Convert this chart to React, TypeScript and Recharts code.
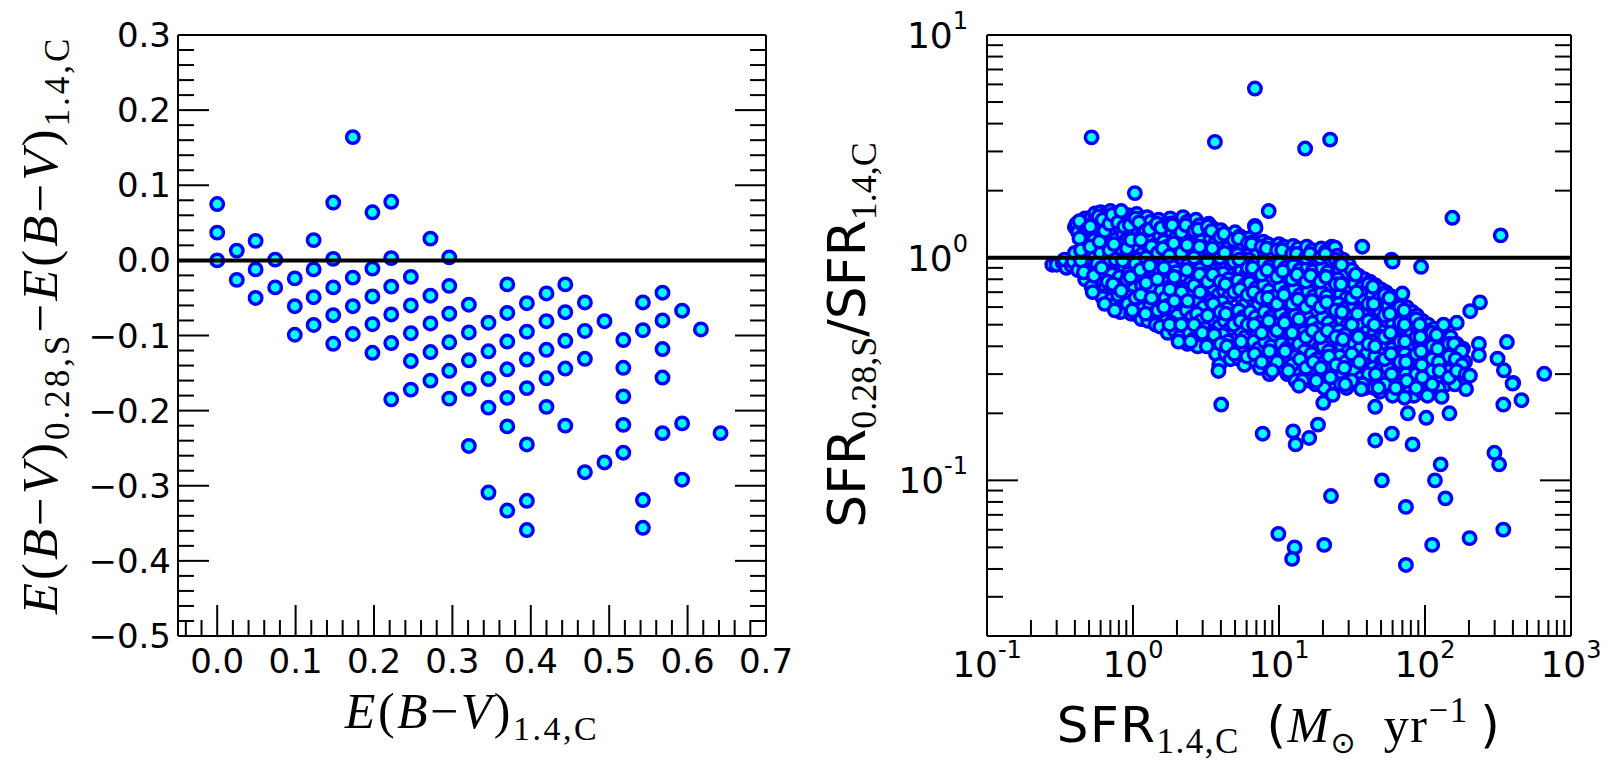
import React from 'react';
import { ScatterChart, Scatter, XAxis, YAxis, ReferenceLine } from 'recharts';

const FILL = '#00ffff';
const EDGE = '#0000ff';
const SANS = '"DejaVu Sans", sans-serif';
const SERIF = '"Liberation Serif", "DejaVu Serif", serif';

// E(B-V) from the 1.4 GHz continuum comes in fixed steps: one column per step
const ebvColumns = [
  0.0, 0.025, 0.049, 0.074, 0.099, 0.123, 0.148, 0.173, 0.198, 0.222, 0.247, 0.272, 0.296, 0.321,
  0.346, 0.37, 0.395, 0.42, 0.444, 0.469, 0.494, 0.518, 0.543, 0.568, 0.593, 0.617, 0.642,
];

// E(B-V)_0.28,S - E(B-V)_1.4,C for the galaxies in each column above
const ebvDeltas = [
  [0.075, 0.037, 0.0],
  [0.013, -0.026],
  [0.026, -0.012, -0.05],
  [0.001, -0.036],
  [-0.024, -0.061, -0.099],
  [0.027, -0.012, -0.049, -0.086],
  [0.077, 0.002, -0.036, -0.073, -0.111],
  [0.164, -0.023, -0.061, -0.098],
  [0.064, -0.011, -0.048, -0.085, -0.123],
  [0.078, 0.003, -0.035, -0.072, -0.11, -0.185],
  [-0.022, -0.06, -0.097, -0.134, -0.172],
  [0.029, -0.047, -0.084, -0.122, -0.16],
  [0.004, -0.034, -0.071, -0.109, -0.147, -0.184],
  [-0.059, -0.096, -0.133, -0.171, -0.247],
  [-0.083, -0.121, -0.158, -0.196, -0.309],
  [-0.032, -0.07, -0.108, -0.145, -0.183, -0.221, -0.333],
  [-0.057, -0.095, -0.132, -0.17, -0.245, -0.32, -0.359],
  [-0.044, -0.081, -0.119, -0.157, -0.195],
  [-0.032, -0.069, -0.107, -0.144, -0.22],
  [-0.056, -0.094, -0.131, -0.282],
  [-0.081, -0.269],
  [-0.106, -0.143, -0.181, -0.219, -0.256],
  [-0.056, -0.093, -0.319, -0.356],
  [-0.043, -0.08, -0.118, -0.156, -0.23],
  [-0.067, -0.217, -0.292],
  [-0.092],
  [-0.23],
];

const ebvTicks = [0, 0.1, 0.2, 0.3, 0.4, 0.5, 0.6, 0.7];
const deltaTicks = [-0.5, -0.4, -0.3, -0.2, -0.1, 0, 0.1, 0.2, 0.3];
const sfrDecades = [-1, 0, 1, 2, 3];
const ratioDecades = [-1, 0, 1];

// [SFR_1.4,C, SFR_0.28,S / SFR_1.4,C] for the bulk of the sample
const sfrCloud: [number, number][] = [
  [0.28, 0.93], [0.3, 0.93], [0.33, 0.95], [0.35, 0.9], [0.34, 0.98],
  [0.38, 0.92], [0.4, 1.37], [0.41, 1.42], [0.39, 0.96], [0.42, 0.88], [0.4, 1.05], [0.42, 1.3],
  [0.45, 1.45], [0.47, 1.5], [0.46, 1.38], [0.48, 0.93], [0.46, 1.12], [0.5, 0.85], [0.49, 1.02], [0.47, 0.8], [0.5, 1.25], [0.48, 1.18],
  [0.52, 1.52], [0.55, 1.58], [0.53, 1.42], [0.56, 1.3], [0.54, 1.2], [0.57, 1.08], [0.53, 0.97], [0.55, 0.9], [0.58, 0.78], [0.56, 0.72], [0.52, 0.74], [0.57, 1.46], [0.55, 1.02],
  [0.6, 1.6], [0.63, 1.55], [0.65, 1.48], [0.61, 1.38], [0.66, 1.33], [0.62, 1.25], [0.67, 1.18], [0.64, 1.12], [0.6, 1.05], [0.68, 0.98], [0.63, 0.93], [0.66, 0.86], [0.61, 0.8], [0.65, 0.74], [0.68, 0.69], [0.62, 0.66],
  [0.7, 1.62], [0.74, 1.52], [0.72, 1.44], [0.77, 1.36], [0.71, 1.28], [0.75, 1.2], [0.78, 1.1], [0.73, 1.03], [0.7, 0.96], [0.76, 0.9], [0.72, 0.84], [0.78, 0.78], [0.74, 0.71], [0.71, 0.65], [0.77, 0.62],
  [0.8, 1.58], [0.84, 1.5], [0.88, 1.42], [0.82, 1.35], [0.86, 1.27], [0.9, 1.2], [0.81, 1.14], [0.85, 1.07], [0.89, 1.0], [0.83, 0.94], [0.87, 0.88], [0.81, 0.82], [0.86, 0.76], [0.9, 0.7], [0.84, 0.64], [0.88, 0.6], [0.82, 0.57],
  [0.93, 1.55], [0.97, 1.47], [1.0, 1.38], [0.95, 1.31], [1.02, 1.24], [0.94, 1.16], [0.99, 1.09], [1.02, 1.02], [0.96, 0.96], [1.0, 0.9], [0.93, 0.85], [0.98, 0.79], [1.02, 0.73], [0.95, 0.67], [1.0, 0.61], [0.97, 0.56],
  [1.06, 1.57], [1.12, 1.49], [1.18, 1.4], [1.08, 1.33], [1.15, 1.26], [1.2, 1.18], [1.1, 1.11], [1.16, 1.04], [1.07, 0.98], [1.13, 0.92], [1.19, 0.86], [1.09, 0.81], [1.15, 0.75], [1.2, 0.69], [1.11, 0.64], [1.17, 0.59], [1.08, 0.55], [1.14, 0.53],
  [1.25, 1.52], [1.32, 1.45], [1.4, 1.37], [1.28, 1.29], [1.36, 1.22], [1.44, 1.15], [1.3, 1.08], [1.38, 1.01], [1.26, 0.95], [1.34, 0.89], [1.42, 0.83], [1.29, 0.78], [1.37, 0.72], [1.45, 0.66], [1.31, 0.61], [1.39, 0.56], [1.27, 0.52], [1.43, 0.5],
  [1.5, 1.48], [1.58, 1.4], [1.66, 1.33], [1.53, 1.25], [1.62, 1.18], [1.72, 1.12], [1.55, 1.05], [1.64, 0.99], [1.74, 0.93], [1.52, 0.88], [1.6, 0.82], [1.7, 0.77], [1.56, 0.71], [1.67, 0.66], [1.75, 0.61], [1.59, 0.56], [1.69, 0.52], [1.54, 0.49], [1.73, 0.46],
  [1.8, 1.5], [1.9, 1.43], [2.0, 1.36], [1.85, 1.29], [1.95, 1.22], [2.08, 1.15], [1.82, 1.09], [1.93, 1.03], [2.04, 0.97], [1.87, 0.91], [1.98, 0.86], [2.1, 0.8], [1.84, 0.75], [1.96, 0.7], [2.06, 0.65], [1.89, 0.6], [2.01, 0.55], [1.83, 0.51], [1.94, 0.47], [2.09, 0.44],
  [2.2, 1.52], [2.35, 1.45], [2.5, 1.38], [2.25, 1.31], [2.42, 1.24], [2.58, 1.17], [2.28, 1.1], [2.45, 1.04], [2.22, 0.98], [2.38, 0.93], [2.55, 0.87], [2.3, 0.82], [2.48, 0.77], [2.24, 0.72], [2.4, 0.67], [2.57, 0.62], [2.33, 0.58], [2.52, 0.54], [2.27, 0.5], [2.44, 0.46], [2.6, 0.43], [2.36, 0.41],
  [2.7, 1.48], [2.85, 1.4], [3.05, 1.33], [2.75, 1.26], [2.95, 1.19], [3.15, 1.12], [2.8, 1.06], [3.0, 1.0], [2.72, 0.95], [2.9, 0.89], [3.1, 0.84], [2.78, 0.79], [2.98, 0.74], [3.2, 0.69], [2.82, 0.64], [3.03, 0.6], [2.74, 0.56], [2.93, 0.52], [3.13, 0.48], [2.87, 0.45], [3.08, 0.42], [2.77, 0.4],
  [3.3, 1.42], [3.5, 1.36], [3.75, 1.3], [3.4, 1.23], [3.65, 1.16], [3.9, 1.1], [3.35, 1.04], [3.58, 0.98], [3.82, 0.93], [3.45, 0.88], [3.7, 0.83], [3.32, 0.78], [3.55, 0.73], [3.85, 0.68], [3.42, 0.64], [3.68, 0.6], [3.38, 0.56], [3.62, 0.52], [3.88, 0.49], [3.48, 0.46], [3.78, 0.43], [3.52, 0.4], [3.7, 0.37], [3.9, 0.33], [3.85, 0.31],
  [4.0, 1.33], [4.3, 1.27], [4.6, 1.22], [4.1, 1.16], [4.45, 1.1], [4.75, 1.05], [4.05, 0.99], [4.35, 0.94], [4.7, 0.9], [4.15, 0.85], [4.5, 0.8], [4.8, 0.76], [4.2, 0.71], [4.55, 0.67], [4.08, 0.63], [4.4, 0.59], [4.72, 0.55], [4.25, 0.52], [4.62, 0.48], [4.12, 0.45], [4.48, 0.42], [4.78, 0.39], [4.3, 0.37], [4.65, 0.35],
  [5.0, 1.3], [5.4, 1.25], [5.8, 1.2], [5.1, 1.15], [5.6, 1.09], [5.2, 1.03], [5.7, 0.98], [5.05, 0.93], [5.5, 0.88], [5.95, 0.84], [5.25, 0.79], [5.75, 0.75], [5.15, 0.7], [5.55, 0.66], [5.9, 0.62], [5.3, 0.58], [5.65, 0.54], [5.08, 0.51], [5.45, 0.47], [5.85, 0.44], [5.2, 0.41], [5.6, 0.38], [5.35, 0.35], [5.8, 0.33],
  [6.2, 1.22], [6.7, 1.18], [7.3, 1.13], [6.4, 1.08], [7.0, 1.03], [6.25, 0.98], [6.85, 0.94], [7.45, 0.9], [6.5, 0.85], [7.15, 0.81], [6.3, 0.77], [6.95, 0.73], [7.4, 0.69], [6.6, 0.65], [7.2, 0.61], [6.35, 0.57], [6.9, 0.54], [7.35, 0.51], [6.45, 0.48], [7.05, 0.45], [6.7, 0.42], [7.25, 0.39], [6.4, 0.37], [6.95, 0.34], [7.4, 0.32],
  [7.8, 1.18], [8.4, 1.15], [9.2, 1.1], [8.0, 1.05], [8.8, 1.0], [7.9, 0.95], [8.6, 0.91], [9.4, 0.87], [8.1, 0.83], [8.9, 0.79], [7.85, 0.75], [8.5, 0.71], [9.3, 0.67], [8.2, 0.63], [9.0, 0.6], [7.95, 0.57], [8.7, 0.54], [9.45, 0.51], [8.3, 0.48], [9.1, 0.45], [8.0, 0.42], [8.8, 0.4], [9.35, 0.37], [8.45, 0.35], [9.2, 0.32], [8.6, 0.3],
  [10.0, 1.15], [10.8, 1.12], [11.8, 1.08], [10.3, 1.03], [11.3, 0.99], [10.1, 0.94], [11.0, 0.9], [12.0, 0.86], [10.5, 0.82], [11.5, 0.78], [10.2, 0.74], [11.1, 0.7], [11.9, 0.66], [10.6, 0.63], [11.6, 0.59], [10.3, 0.56], [11.2, 0.53], [12.0, 0.5], [10.7, 0.47], [11.7, 0.44], [10.4, 0.41], [11.3, 0.39], [10.9, 0.36], [11.8, 0.34], [10.5, 0.32], [11.4, 0.3],
  [12.5, 1.13], [13.5, 1.1], [14.8, 1.06], [12.8, 1.01], [14.0, 0.97], [12.6, 0.92], [13.8, 0.88], [15.0, 0.84], [13.0, 0.8], [14.4, 0.76], [12.7, 0.72], [13.9, 0.68], [15.0, 0.65], [13.2, 0.61], [14.6, 0.58], [12.9, 0.55], [14.1, 0.52], [13.4, 0.49], [14.7, 0.46], [12.6, 0.43], [13.7, 0.41], [14.9, 0.38], [13.1, 0.36], [14.3, 0.33], [13.6, 0.31], [14.8, 0.29], [13.0, 0.28],
  [15.5, 1.12], [16.8, 1.08], [18.5, 1.05], [16.0, 1.0], [17.5, 0.96], [15.7, 0.91], [17.0, 0.87], [18.8, 0.83], [16.3, 0.79], [17.9, 0.75], [15.8, 0.71], [17.2, 0.67], [18.6, 0.64], [16.5, 0.6], [18.0, 0.57], [15.6, 0.54], [17.0, 0.51], [18.4, 0.48], [16.2, 0.45], [17.6, 0.42], [19.0, 0.4], [16.7, 0.37], [18.2, 0.35], [15.9, 0.33], [17.3, 0.31], [18.7, 0.29], [16.4, 0.28], [17.8, 0.27],
  [19.5, 1.1], [21.0, 1.07], [23.0, 1.12], [20.0, 1.0], [22.0, 0.95], [19.8, 0.9], [21.5, 0.86], [23.5, 0.82], [20.3, 0.78], [22.4, 0.74], [19.6, 0.7], [21.2, 0.67], [23.2, 0.63], [20.6, 0.6], [22.6, 0.57], [19.9, 0.54], [21.8, 0.51], [23.8, 0.48], [20.8, 0.45], [22.9, 0.43], [20.1, 0.4], [21.9, 0.38], [23.6, 0.36], [20.5, 0.34], [22.3, 0.32], [24.0, 0.3], [21.3, 0.28], [23.0, 0.27], [20.4, 0.26], [24.2, 1.11],
  [25.0, 1.02], [27.5, 0.98], [30.0, 0.93], [26.0, 0.88], [28.5, 0.84], [25.3, 0.8], [27.8, 0.76], [30.5, 0.73], [26.4, 0.69], [29.0, 0.66], [25.6, 0.62], [28.0, 0.59], [30.8, 0.56], [26.8, 0.53], [29.5, 0.5], [25.8, 0.47], [28.3, 0.45], [31.0, 0.42], [27.0, 0.4], [29.8, 0.38], [26.0, 0.36], [28.7, 0.34], [31.0, 0.32], [27.3, 0.3], [30.0, 0.28], [26.5, 0.27], [29.0, 0.26],
  [32.0, 0.87], [35.0, 0.83], [38.5, 0.8], [33.0, 0.76], [36.5, 0.73], [40.0, 0.7], [34.0, 0.67], [37.5, 0.64], [32.5, 0.61], [35.8, 0.58], [39.5, 0.55], [33.5, 0.52], [37.0, 0.5], [40.5, 0.47], [34.5, 0.45], [38.0, 0.43], [32.8, 0.41], [36.0, 0.39], [39.8, 0.37], [34.8, 0.35], [38.6, 0.33], [33.2, 0.31], [36.8, 0.29], [40.2, 0.28], [35.5, 0.27], [39.0, 0.26],
  [42.0, 0.78], [46.0, 0.75], [50.0, 0.72], [43.5, 0.68], [48.0, 0.65], [52.0, 0.62], [44.5, 0.59], [49.0, 0.56], [42.8, 0.53], [47.0, 0.51], [51.5, 0.48], [45.0, 0.46], [49.5, 0.44], [43.2, 0.42], [47.5, 0.4], [52.0, 0.38], [45.5, 0.36], [50.0, 0.34], [44.0, 0.32], [48.5, 0.31], [52.5, 0.29], [46.5, 0.28], [50.5, 0.27], [44.8, 0.26], [49.0, 0.25],
  [54.0, 0.7], [59.0, 0.67], [64.0, 0.64], [56.0, 0.61], [61.0, 0.58], [66.0, 0.55], [55.0, 0.52], [60.0, 0.5], [65.0, 0.47], [57.0, 0.45], [62.5, 0.43], [54.5, 0.41], [59.5, 0.39], [65.5, 0.37], [57.5, 0.35], [63.0, 0.33], [55.5, 0.32], [61.0, 0.3], [66.5, 0.29], [58.0, 0.28], [64.0, 0.27], [56.5, 0.26], [62.0, 0.25], [60.0, 0.24],
  [68.0, 0.63], [75.0, 0.6], [82.0, 0.57], [70.0, 0.54], [78.0, 0.52], [85.0, 0.49], [72.0, 0.47], [80.0, 0.45], [69.0, 0.43], [76.0, 0.41], [84.0, 0.39], [73.0, 0.37], [81.0, 0.35], [70.5, 0.34], [78.5, 0.32], [86.0, 0.31], [74.0, 0.3], [82.5, 0.28], [71.5, 0.27], [79.0, 0.26], [76.5, 0.25], [84.0, 0.24], [72.5, 0.235],
  [88.0, 0.55], [96.0, 0.52], [105, 0.5], [90.0, 0.47], [99.0, 0.45], [108, 0.43], [92.0, 0.41], [101, 0.39], [89.0, 0.37], [97.0, 0.35], [106, 0.34], [93.5, 0.32], [103, 0.31], [110, 0.29], [91.0, 0.28], [99.5, 0.27], [107, 0.26], [95.0, 0.25], [104, 0.24],
  [115, 0.48], [125, 0.46], [138, 0.44], [118, 0.42], [130, 0.4], [142, 0.38], [120, 0.36], [133, 0.35], [145, 0.33], [123, 0.32], [136, 0.3], [117, 0.29], [128, 0.28], [140, 0.27], [124, 0.26],
  [150, 0.44], [165, 0.41], [182, 0.39], [155, 0.38], [172, 0.36], [188, 0.34], [158, 0.33], [176, 0.31], [152, 0.3], [168, 0.29], [185, 0.28], [160, 0.27],
];

// second pass over the same band, the galaxies lying between the ones above
const sfrCloudInner: [number, number][] = [
  [0.43, 1.22], [0.44, 0.97], [0.46, 0.86], [0.43, 1.46], [0.49, 1.35], [0.44, 1.08],
  [0.51, 1.12], [0.54, 0.83], [0.57, 0.94], [0.59, 1.18], [0.51, 1.38], [0.58, 1.53], [0.53, 0.7],
  [0.62, 1.48], [0.64, 1.32], [0.69, 1.08], [0.61, 0.9], [0.67, 0.78], [0.64, 0.62], [0.69, 1.42],
  [0.72, 1.56], [0.79, 1.44], [0.74, 1.15], [0.76, 0.98], [0.73, 0.76], [0.79, 0.68], [0.75, 0.58],
  [0.83, 1.62], [0.87, 1.38], [0.91, 1.1], [0.85, 0.97], [0.91, 0.8], [0.83, 0.71], [0.92, 0.62],
  [0.95, 1.4], [1.04, 1.5], [0.97, 1.2], [1.04, 0.94], [0.96, 0.82], [1.04, 0.66], [0.99, 0.58],
  [1.1, 1.44], [1.22, 1.32], [1.13, 1.2], [1.23, 1.0], [1.12, 0.88], [1.23, 0.77], [1.13, 0.68], [1.22, 0.56],
  [1.3, 1.34], [1.46, 1.42], [1.34, 1.12], [1.48, 1.05], [1.3, 0.92], [1.47, 0.8], [1.34, 0.66], [1.48, 0.58],
  [1.56, 1.36], [1.78, 1.42], [1.6, 1.1], [1.78, 1.02], [1.63, 0.9], [1.79, 0.72], [1.63, 0.6], [1.78, 0.5],
  [1.86, 1.4], [2.14, 1.3], [1.9, 1.16], [2.14, 1.05], [1.92, 0.82], [2.15, 0.7], [1.92, 0.64], [2.14, 0.5], [2.05, 0.42],
  [2.3, 1.4], [2.63, 1.32], [2.35, 1.14], [2.62, 1.0], [2.34, 0.88], [2.62, 0.75], [2.37, 0.64], [2.62, 0.5], [2.48, 0.42],
  [2.8, 1.34], [3.25, 1.38], [2.86, 1.12], [3.24, 0.97], [2.86, 0.84], [3.25, 0.78], [2.88, 0.7], [3.25, 0.55], [2.98, 0.46], [3.2, 0.4],
  [3.45, 1.32], [3.95, 1.24], [3.5, 1.1], [3.95, 1.0], [3.52, 0.84], [3.96, 0.78], [3.55, 0.62], [3.96, 0.57], [3.6, 0.45], [3.98, 0.41],
  [4.2, 1.28], [4.9, 1.2], [4.25, 1.05], [4.9, 0.96], [4.3, 0.76], [4.92, 0.7], [4.32, 0.56], [4.9, 0.5], [4.4, 0.4], [4.95, 0.37],
  [5.3, 1.22], [6.1, 1.16], [5.35, 0.98], [6.1, 0.9], [5.4, 0.72], [6.1, 0.68], [5.45, 0.52], [6.1, 0.5], [5.5, 0.42], [6.05, 0.36],
  [6.5, 1.15], [7.6, 1.12], [6.6, 0.9], [7.6, 0.84], [6.7, 0.7], [7.6, 0.66], [6.75, 0.5], [7.6, 0.46], [6.8, 0.37], [7.6, 0.34],
  [8.2, 1.1], [9.7, 1.08], [8.3, 0.88], [9.7, 0.82], [8.4, 0.66], [9.7, 0.62], [8.5, 0.52], [9.7, 0.47], [8.6, 0.38], [9.7, 0.34], [9.0, 0.31],
  [10.5, 1.08], [12.3, 1.04], [10.6, 0.87], [12.3, 0.8], [10.8, 0.68], [12.3, 0.62], [10.9, 0.51], [12.3, 0.46], [11.0, 0.38], [12.3, 0.33], [11.6, 0.31],
  [13.2, 1.04], [15.3, 1.0], [13.3, 0.84], [15.3, 0.78], [13.5, 0.65], [15.3, 0.6], [13.7, 0.53], [15.3, 0.44], [13.9, 0.35], [15.3, 0.32], [14.5, 0.28],
  [16.3, 1.04], [19.2, 1.0], [16.5, 0.83], [19.2, 0.78], [16.8, 0.64], [19.2, 0.6], [17.0, 0.47], [19.2, 0.44], [17.2, 0.34], [19.3, 0.32], [18.0, 0.28],
  [20.8, 1.04], [24.5, 0.98], [21.0, 0.82], [24.5, 0.76], [21.2, 0.63], [24.5, 0.58], [21.5, 0.47], [24.5, 0.44], [22.0, 0.36], [24.6, 0.33], [22.5, 0.29],
  [26.3, 0.95], [31.5, 0.88], [26.6, 0.76], [31.5, 0.66], [27.0, 0.57], [31.5, 0.5], [27.4, 0.43], [31.5, 0.37], [28.0, 0.32], [31.5, 0.28], [28.4, 0.27],
  [33.5, 0.84], [41.0, 0.76], [34.0, 0.7], [41.0, 0.62], [34.5, 0.56], [41.0, 0.52], [35.0, 0.44], [41.0, 0.41], [35.5, 0.34], [41.0, 0.3], [37.5, 0.27],
  [44.0, 0.74], [53.0, 0.68], [44.5, 0.62], [53.0, 0.55], [45.0, 0.5], [53.0, 0.44], [45.5, 0.4], [53.0, 0.35], [46.0, 0.3], [53.0, 0.27], [48.0, 0.26],
  [57.0, 0.66], [67.5, 0.6], [57.5, 0.56], [67.5, 0.51], [58.0, 0.46], [67.5, 0.42], [58.5, 0.37], [67.5, 0.34], [59.0, 0.3], [67.5, 0.27], [63.0, 0.26],
  [72.0, 0.58], [87.0, 0.53], [72.5, 0.5], [87.0, 0.44], [73.0, 0.42], [87.0, 0.37], [74.0, 0.34], [87.0, 0.3], [75.0, 0.28], [87.0, 0.26],
  [92.0, 0.5], [112, 0.46], [93.0, 0.44], [112, 0.4], [94.0, 0.38], [112, 0.35], [95.0, 0.33], [112, 0.31], [96.0, 0.29], [112, 0.27],
  [120, 0.45], [146, 0.41], [122, 0.39], [146, 0.36], [124, 0.34], [146, 0.31], [126, 0.31], [146, 0.29],
  [158, 0.41], [178, 0.38], [162, 0.35], [180, 0.33], [165, 0.31], [190, 0.3],
];

// galaxies away from the main sequence
const sfrOutliers: [number, number][] = [
  [6.84, 5.75], [0.52, 3.47], [3.64, 3.31], [15.1, 3.09], [22.4, 3.39], [1.03, 1.95], [8.5, 1.62],
  [6.84, 1.39], [6.9, 1.36], [154, 1.51], [330, 1.26], [37.2, 1.12], [59, 0.98], [60, 0.96], [94, 0.91],
  [26.8, 0.93], [238, 0.63], [204, 0.575], [134, 0.5], [165, 0.51], [234, 0.41], [234, 0.365], [364, 0.418],
  [314, 0.352], [347, 0.312], [402, 0.274], [656, 0.301], [70, 0.69], [203, 0.295], [130, 0.237],
  [4.02, 0.219], [7.73, 0.162], [12.5, 0.166], [13.0, 0.145], [16.1, 0.155], [18.5, 0.178], [45.6, 0.151],
  [59.3, 0.162], [82.2, 0.145], [76.3, 0.2], [102, 0.191], [147, 0.2], [299, 0.133], [322, 0.118],
  [128, 0.118], [50.7, 0.1], [117, 0.1], [138, 0.083], [22.7, 0.085], [74, 0.076], [9.9, 0.0575],
  [12.8, 0.05], [12.3, 0.0444], [20.4, 0.0513], [112, 0.0513], [74, 0.0417], [202, 0.055], [344, 0.0601],
  [344, 0.219], [458, 0.229], [45.6, 0.214], [23.3, 0.242], [20.1, 0.223], [36.6, 0.257], [191, 0.257],
  [398, 0.272], [13.7, 0.266],
];

const extinctionData = ebvColumns.flatMap((x, i) => ebvDeltas[i].map((y) => ({ x, y })));
const ratioData = [...sfrCloud, ...sfrCloudInner, ...sfrOutliers].map(([x, y]) => ({ x, y }));

// tick positions: every 0.02 on the linear axes, 1..9 x 10^n on the log axes
const stepTicks = (lo: number, hi: number, step: number) => {
  const out: number[] = [];
  for (let i = Math.round(lo / step); i <= Math.round(hi / step); i++) out.push(Math.round(i * step * 1000) / 1000);
  return out;
};
const logTicks = (lo: number, hi: number) => {
  const out: number[] = [];
  for (let e = Math.floor(Math.log10(lo)); e <= Math.ceil(Math.log10(hi)); e++) {
    for (let m = 1; m <= 9; m++) {
      const v = +(m * Math.pow(10, e)).toPrecision(3);
      if (v >= lo * 0.999 && v <= hi * 1.001) out.push(v);
    }
  }
  return out;
};

const isTenth = (v: number) => Math.abs(v * 10 - Math.round(v * 10)) < 1e-6;
const isDecade = (v: number) => Math.abs(Math.log10(v) - Math.round(Math.log10(v))) < 1e-6;
const fmtLinear = (v: number) => (v < -1e-9 ? '\u2212' : '') + Math.abs(v).toFixed(1);
const exponent = (v: number) => Math.round(Math.log10(v));

const MAJOR_LEN = 31;
const MINOR_LEN = 16;

type Side = 'bottom' | 'top' | 'left' | 'right';

// inward ticks drawn at the axis line, labels only on major ticks
const inwardTick =
  (side: Side, isMajor: (v: number) => boolean, label?: (v: number, x: number, y: number) => React.ReactNode) =>
  (props: any) => {
    const { x, y, payload } = props;
    const v = payload.value as number;
    const major = isMajor(v);
    const len = major ? MAJOR_LEN : MINOR_LEN;
    let x2 = x;
    let y2 = y;
    if (side === 'bottom') y2 = y - len;
    if (side === 'top') y2 = y + len;
    if (side === 'left') x2 = x + len;
    if (side === 'right') x2 = x - len;
    return (
      <g>
        <line x1={x} y1={y} x2={x2} y2={y2} stroke="#000" strokeWidth={2} />
        {major && label ? label(v, x, y) : null}
      </g>
    );
  };

const Dot = (p: any) => <circle cx={p.cx} cy={p.cy} r={6.2} fill={FILL} stroke={EDGE} strokeWidth={3.5} />;

const frame = { stroke: '#000', strokeWidth: 2 };

function ExtinctionPanel() {
  const xTicks = stepTicks(-0.04, 0.7, 0.02);
  const yTicks = stepTicks(-0.5, 0.3, 0.02);
  const xLabel = (v: number, x: number, y: number) =>
    ebvTicks.some((t) => Math.abs(t - v) < 1e-6) ? (
      <text x={x} y={y + 37} textAnchor="middle" fontFamily={SANS} fontSize={34} fill="#000">
        {fmtLinear(v)}
      </text>
    ) : null;
  const yLabel = (v: number, x: number, y: number) =>
    deltaTicks.some((t) => Math.abs(t - v) < 1e-6) ? (
      <text x={x - 7} y={y + 12} textAnchor="end" fontFamily={SANS} fontSize={34} fill="#000">
        {fmtLinear(v)}
      </text>
    ) : null;

  const xTitle = () => (
    <text x={472} y={728} textAnchor="middle" fontFamily={SERIF} fontSize={50} letterSpacing={2.5} fill="#000">
      <tspan fontStyle="italic">E</tspan>(<tspan fontStyle="italic">B</tspan>{'\u2212'}
      <tspan fontStyle="italic">V</tspan>)
      <tspan fontSize={34} dy={12}>1.4,C</tspan>
    </text>
  );
  const yTitle = () => (
    <text
      x={57}
      y={325}
      transform="rotate(-90 57 325)"
      textAnchor="middle"
      fontFamily={SERIF}
      fontSize={51}
      letterSpacing={3}
      fill="#000"
    >
      <tspan fontStyle="italic">E</tspan>(<tspan fontStyle="italic">B</tspan>{'\u2212'}
      <tspan fontStyle="italic">V</tspan>)
      <tspan fontSize={35} dy={12}>0.28,S</tspan>
      <tspan dy={-12}>{'\u2212'}</tspan>
      <tspan fontStyle="italic">E</tspan>(<tspan fontStyle="italic">B</tspan>{'\u2212'}
      <tspan fontStyle="italic">V</tspan>)
      <tspan fontSize={35} dy={12}>1.4,C</tspan>
    </text>
  );

  return (
    <ScatterChart width={812} height={778} margin={{ top: 0, right: 0, bottom: 0, left: 0 }}>
      <XAxis
        xAxisId="b"
        type="number"
        dataKey="x"
        domain={[-0.05, 0.7]}
        allowDataOverflow
        ticks={xTicks}
        interval={0}
        height={142}
        tickSize={0}
        tickMargin={0}
        tickLine={false}
        axisLine={frame}
        tick={inwardTick('bottom', isTenth, xLabel)}
        label={{ content: xTitle }}
      />
      <XAxis
        xAxisId="t"
        orientation="top"
        type="number"
        domain={[-0.05, 0.7]}
        allowDataOverflow
        ticks={xTicks}
        interval={0}
        height={35}
        tickSize={0}
        tickMargin={0}
        tickLine={false}
        axisLine={frame}
        tick={inwardTick('top', isTenth)}
      />
      <YAxis
        yAxisId="l"
        type="number"
        dataKey="y"
        domain={[-0.5, 0.3]}
        allowDataOverflow
        ticks={yTicks}
        interval={0}
        width={178}
        tickSize={0}
        tickMargin={0}
        tickLine={false}
        axisLine={frame}
        tick={inwardTick('left', isTenth, yLabel)}
        label={{ content: yTitle }}
      />
      <YAxis
        yAxisId="r"
        orientation="right"
        type="number"
        domain={[-0.5, 0.3]}
        allowDataOverflow
        ticks={yTicks}
        interval={0}
        width={46}
        tickSize={0}
        tickMargin={0}
        tickLine={false}
        axisLine={frame}
        tick={inwardTick('right', isTenth)}
      />
      <Scatter xAxisId="b" yAxisId="l" data={extinctionData} shape={Dot} isAnimationActive={false} />
      <ReferenceLine xAxisId="b" yAxisId="l" y={0} stroke="#000" strokeWidth={4} zIndex={1000} />
    </ScatterChart>
  );
}

function RatioPanel() {
  const xTicks = logTicks(0.1, 1000);
  const yTicks = logTicks(0.02, 10);
  const xLabel = (v: number, x: number, y: number) =>
    sfrDecades.includes(exponent(v)) ? (
      <text x={x} y={y + 41} textAnchor="middle" fontFamily={SANS} fontSize={36} fill="#000">
        10<tspan dy={-19} fontSize={24}>{exponent(v)}</tspan>
      </text>
    ) : null;
  const yLabel = (v: number, x: number, y: number) =>
    ratioDecades.includes(exponent(v)) ? (
      <text x={x - 19} y={y + 13} textAnchor="end" fontFamily={SANS} fontSize={36} fill="#000">
        10<tspan dy={-19} fontSize={24}>{exponent(v)}</tspan>
      </text>
    ) : null;

  const xTitle = () => (
    <text x={467} y={742} textAnchor="middle" fontSize={50} letterSpacing={1.5} fill="#000">
      <tspan fontFamily={SANS}>SFR</tspan>
      <tspan fontFamily={SERIF} fontSize={35} dy={11}>1.4,C</tspan>
      <tspan fontFamily={SANS} dy={-11}>{'\u2002('}</tspan>
      <tspan fontFamily={SERIF} fontStyle="italic">M</tspan>
      <tspan fontFamily={SANS} fontSize={30} dy={11}>{'\u2299'}</tspan>
      <tspan fontFamily={SERIF} dy={-11}>{'\u2002yr'}</tspan>
      <tspan fontFamily={SERIF} fontSize={35} dy={-20}>{'\u22121'}</tspan>
      <tspan fontFamily={SANS} dy={20}>{'\u2009)'}</tspan>
    </text>
  );
  const yTitle = () => (
    <text x={53} y={335} transform="rotate(-90 53 335)" textAnchor="middle" fontSize={52} fill="#000">
      <tspan fontFamily={SANS}>SFR</tspan>
      <tspan fontFamily={SERIF} fontSize={36} dy={11}>0.28,S</tspan>
      <tspan fontFamily={SANS} dy={-11}>/</tspan>
      <tspan fontFamily={SANS}>SFR</tspan>
      <tspan fontFamily={SERIF} fontSize={36} dy={11}>1.4,C</tspan>
    </text>
  );

  return (
    <ScatterChart width={812} height={778} margin={{ top: 0, right: 0, bottom: 0, left: 0 }}>
      <XAxis
        xAxisId="b"
        type="number"
        dataKey="x"
        scale="log"
        domain={[0.1, 1000]}
        allowDataOverflow
        ticks={xTicks}
        interval={0}
        height={142}
        tickSize={0}
        tickMargin={0}
        tickLine={false}
        axisLine={frame}
        tick={inwardTick('bottom', isDecade, xLabel)}
        label={{ content: xTitle }}
      />
      <XAxis
        xAxisId="t"
        orientation="top"
        type="number"
        scale="log"
        domain={[0.1, 1000]}
        allowDataOverflow
        ticks={xTicks}
        interval={0}
        height={35}
        tickSize={0}
        tickMargin={0}
        tickLine={false}
        axisLine={frame}
        tick={inwardTick('top', isDecade)}
      />
      <YAxis
        yAxisId="l"
        type="number"
        dataKey="y"
        scale="log"
        domain={[0.02, 10]}
        allowDataOverflow
        ticks={yTicks}
        interval={0}
        width={175}
        tickSize={0}
        tickMargin={0}
        tickLine={false}
        axisLine={frame}
        tick={inwardTick('left', isDecade, yLabel)}
        label={{ content: yTitle }}
      />
      <YAxis
        yAxisId="r"
        orientation="right"
        type="number"
        scale="log"
        domain={[0.02, 10]}
        allowDataOverflow
        ticks={yTicks}
        interval={0}
        width={53}
        tickSize={0}
        tickMargin={0}
        tickLine={false}
        axisLine={frame}
        tick={inwardTick('right', isDecade)}
      />
      <Scatter xAxisId="b" yAxisId="l" data={ratioData} shape={Dot} isAnimationActive={false} />
      <ReferenceLine xAxisId="b" yAxisId="l" y={1} stroke="#000" strokeWidth={4} zIndex={1000} />
    </ScatterChart>
  );
}

export default function App() {
  return (
    <div style={{ position: 'absolute', left: 0, top: 0, width: 1624, height: 778, background: '#fff', display: 'flex' }}>
      <ExtinctionPanel />
      <RatioPanel />
    </div>
  );
}
